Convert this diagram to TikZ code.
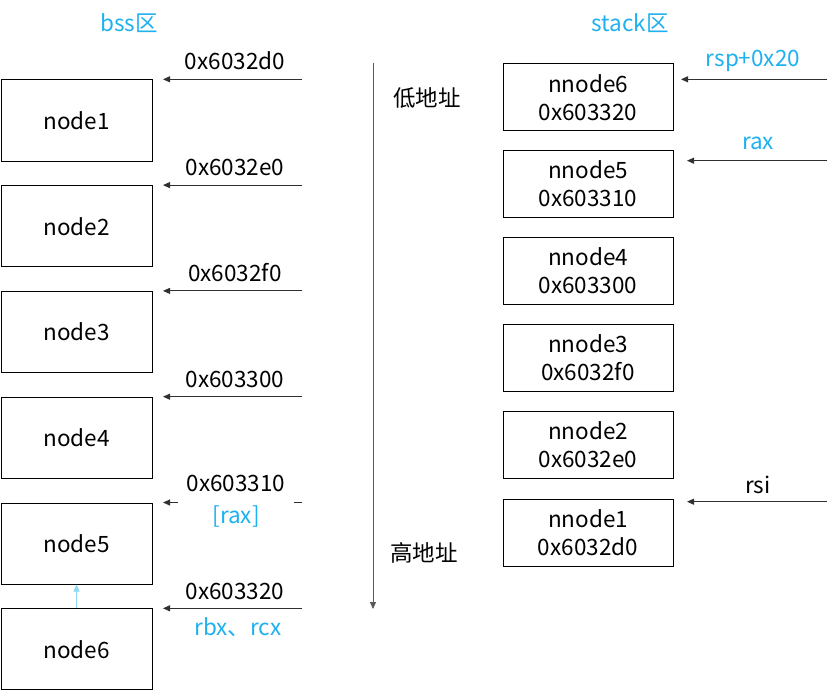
\documentclass[tikz,border=0pt]{standalone}
\usepackage{fontspec}
\setmainfont{Noto Sans CJK SC}
\usetikzlibrary{arrows.meta}
\definecolor{cyanlab}{HTML}{1FB0EF}
\definecolor{lightarr}{HTML}{8FD7F2}
\definecolor{linegray}{HTML}{303030}
\begin{document}
\begin{tikzpicture}[x=1pt,y=-1pt,
  txt/.style={font=\fontsize{22.5}{29}\selectfont, inner sep=0pt},
  bssbox/.style={draw=black, line width=1pt, minimum width=151pt, minimum height=81pt, inner sep=0pt, anchor=north west, font=\fontsize{22.5}{29}\selectfont},
  stkbox/.style={draw=black, line width=1pt, minimum width=170pt, minimum height=67pt, inner sep=0pt, anchor=north west, align=center, font=\fontsize{22.5}{28}\selectfont},
  ptr/.style={draw=linegray, line width=0.9pt, -{Triangle[length=7pt,width=6pt]}},
  cy/.style={txt, text=cyanlab}
]
\useasboundingbox (0,0) rectangle (827,690);

% titles
\node[cy] (bss) at (129,23) {bss区};
\node[cy] (stk) at (630,23) {stack区};

% left boxes
\node[bssbox] (n1) at (0.5,79.5) {node1};
\node[bssbox] (n2) at (0.5,185.3) {node2};
\node[bssbox] (n3) at (0.5,291.1) {node3};
\node[bssbox] (n4) at (0.5,396.9) {node4};
\node[bssbox] (n5) at (0.5,502.5) {node5};
\node[bssbox] (n6) at (0.5,608.3) {node6};

% left pointers
\foreach \i/\y in {1/79.3,2/185.1,3/290.9,4/396.7,5/502.5,6/608.3}{
  \coordinate (ls\i) at (302,\y);
  \coordinate (le\i) at (163,\y);
}
\draw[ptr] (ls1) -- (le1);
\draw[ptr] (ls2) -- (le2);
\draw[ptr] (ls3) -- (le3);
\draw[ptr] (ls4) -- (le4);
\draw[ptr] (ls5) -- (le5);
\draw[ptr] (ls6) -- (le6);

\node[txt] (a1) at (235,61) {0x6032d0};
\node[txt] (a2) at (235,167) {0x6032e0};
\node[txt] (a3) at (235,273) {0x6032f0};
\node[txt] (a4) at (235,379) {0x603300};
\node[fill=white, inner xsep=9pt, inner ysep=0pt, align=center, font=\fontsize{22.5}{32}\selectfont] (a5) at (236,501) {0x603310\\\textcolor{cyanlab}{[rax]}};
\node[txt] (a6) at (235,591) {0x603320};
\node[cy] (rbx) at (238,627) {rbx、rcx};

% node6 -> node5
\draw[draw=lightarr, line width=0.9pt, -{Triangle[length=7pt,width=6pt]}] (n6.north) -- (n5.south);

% vertical address axis
\coordinate (vtop) at (373,63);
\coordinate (vbot) at (373,609);
\draw[ptr, draw=black!65] (vtop) -- (vbot);
\node[txt] (low) at (427,98) {低地址};
\node[txt] (high) at (424,553) {高地址};

% right boxes
\node[stkbox] (m6) at (502.5,63.5) {nnode6\\0x603320};
\node[stkbox] (m5) at (502.5,150) {nnode5\\0x603310};
\node[stkbox] (m4) at (502.5,237) {nnode4\\0x603300};
\node[stkbox] (m3) at (502.5,323.5) {nnode3\\0x6032f0};
\node[stkbox] (m2) at (502.5,410.5) {nnode2\\0x6032e0};
\node[stkbox] (m1) at (502.5,498.5) {nnode1\\0x6032d0};

% right pointers
\coordinate (r1s) at (827,79.3);
\coordinate (r1e) at (681,79.3);
\coordinate (r2s) at (827,160.7);
\coordinate (r2e) at (687,160.7);
\coordinate (r3s) at (827,501.7);
\coordinate (r3e) at (687,501.7);
\draw[ptr] (r1s) -- (r1e);
\draw[ptr] (r2s) -- (r2e);
\draw[ptr] (r3s) -- (r3e);
\node[cy] (rsp) at (753,61) {rsp+0x20};
\node[cy] (rax) at (758,143) {rax};
\node[txt] (rsi) at (758,485) {rsi};
\end{tikzpicture}
\end{document}
